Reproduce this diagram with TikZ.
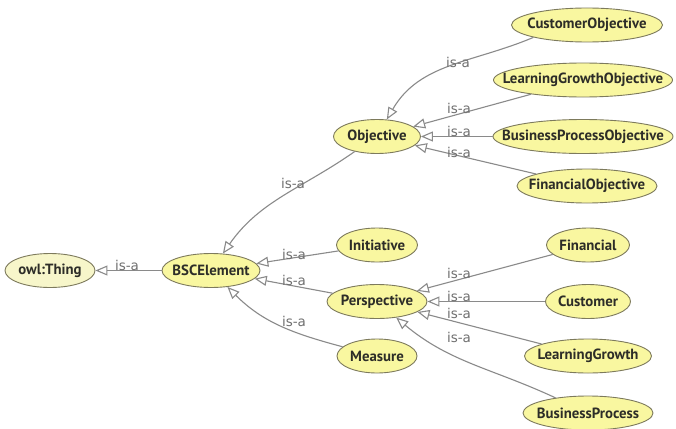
\documentclass[tikz,border=0pt]{standalone}
\usepackage{fontspec}
\setmainfont{PT Sans}
\newfontfamily\lblfont{DejaVu Sans}
\usetikzlibrary{shapes.geometric,arrows.meta}
\definecolor{clsfill}{RGB}{249,247,160}
\definecolor{thingfill}{RGB}{247,246,202}
\definecolor{clsedge}{RGB}{125,122,92}
\definecolor{edgegray}{RGB}{138,138,138}
\definecolor{lblgray}{RGB}{112,112,112}
\definecolor{txtdark}{RGB}{45,45,40}
\newcommand\clsname[1]{\makebox[0pt]{#1}}
\begin{document}
\begin{tikzpicture}[x=1pt,y=1pt,
  cls/.style={ellipse, draw=clsedge, line width=0.9pt, fill=clsfill,
    minimum height=34pt, inner sep=0pt, text=txtdark,
    font=\fontsize{14.8}{16}\selectfont\bfseries},
  isa/.style={draw=edgegray, line width=1.1pt,
    -{Triangle[length=12pt, width=10pt, fill=white]}},
  lbl/.style={text=lblgray, font=\lblfont\fontsize{13.5}{15}\selectfont, inner sep=0pt}]
\fill[white] (0,0) rectangle (676,-428);
\useasboundingbox (0,0) rectangle (676,-428);

% class nodes
\node[cls, fill=thingfill, minimum width=90pt] (thing) at (50,-270.5) {\clsname{owl:Thing}};
\node[cls, minimum width=98pt]  (bsc)     at (211,-270.5) {\clsname{BSCElement}};
\node[cls, minimum width=87pt]  (obj)     at (377,-136.5) {\clsname{Objective}};
\node[cls, minimum width=81pt]  (init)    at (377,-245) {\clsname{Initiative}};
\node[cls, minimum width=100pt] (persp)   at (377,-301.5) {\clsname{Perspective}};
\node[cls, minimum width=80pt]  (meas)    at (377,-356) {\clsname{Measure}};
\node[cls, minimum width=151pt] (custobj) at (587,-25)  {\clsname{CustomerObjective}};
\node[cls, minimum width=179pt] (lgo)     at (583,-80)  {\clsname{LearningGrowthObjective}};
\node[cls, minimum width=180pt] (bpo)     at (583,-136.5) {\clsname{BusinessProcessObjective}};
\node[cls, minimum width=140pt] (fo)      at (587,-186) {\clsname{FinancialObjective}};
\node[cls, minimum width=83pt]  (fin)     at (588,-245) {\clsname{Financial}};
\node[cls, minimum width=85pt]  (cust)    at (588,-301.5) {\clsname{Customer}};
\node[cls, minimum width=127pt] (lg)      at (588,-356) {\clsname{LearningGrowth}};
\node[cls, minimum width=130pt] (bp)      at (588,-413) {\clsname{BusinessProcess}};

% subclass edges
\draw[isa] (bsc) -- (thing) node[lbl] at (127,-265) {is-a};
\draw[isa] (obj.214) to[out=215, in=55] (bsc) node[lbl] at (293,-183) {is-a};
\draw[isa] (init) -- (bsc) node[lbl] at (294,-254) {is-a};
\draw[isa] (persp) -- (bsc) node[lbl] at (294,-280) {is-a};
\draw[isa] (meas) to[out=165, in=-45] (bsc) node[lbl] at (294,-321) {is-a};

\draw[isa] (custobj.193) to[out=203, in=60] (obj) node[lbl] at (458,-62) {is-a};
\draw[isa] (lgo) -- (obj) node[lbl] at (459,-108) {is-a};
\draw[isa] (bpo) -- (obj) node[lbl] at (459,-131) {is-a};
\draw[isa] (fo) -- (obj) node[lbl] at (459,-152) {is-a};

\draw[isa] (fin) -- (persp) node[lbl] at (459,-273) {is-a};
\draw[isa] (cust) -- (persp) node[lbl] at (459,-296) {is-a};
\draw[isa] (lg) -- (persp) node[lbl] at (459,-313) {is-a};
\draw[isa] (bp) to[out=155, in=-40] (persp) node[lbl] at (459,-337) {is-a};
\end{tikzpicture}
\end{document}
